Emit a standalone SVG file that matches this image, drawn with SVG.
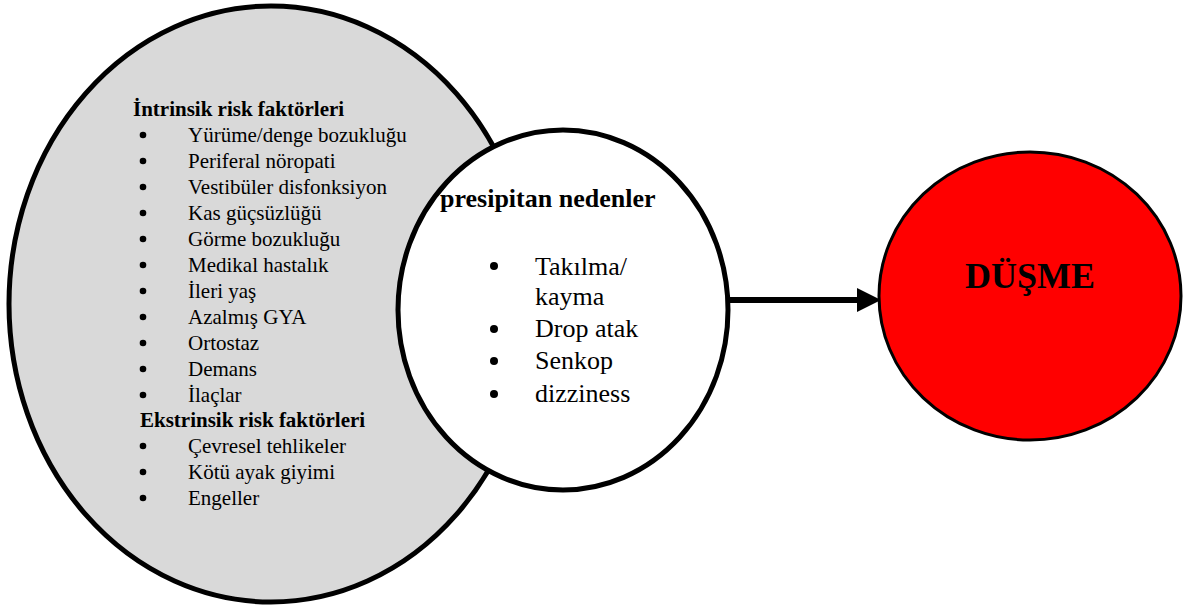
<svg xmlns="http://www.w3.org/2000/svg" width="1187" height="610" viewBox="0 0 1187 610">
<defs>
<style>
.t{font-family:"Liberation Serif","DejaVu Serif",serif;fill:#000}
.li{font-size:21px}
.hd{font-size:21px;font-weight:bold}
.mi{font-size:26px}
.mh{font-size:26px;font-weight:bold}
.b{fill:#000}
</style>
<marker id="ah" markerUnits="userSpaceOnUse" markerWidth="26" markerHeight="26" refX="0" refY="12" orient="auto">
<path d="M0,0 L24,12 L0,24 Z" fill="#000"/>
</marker>
</defs>
<rect width="1187" height="610" fill="#fff"/>
<g id="intrinsic">
<ellipse cx="271" cy="304" rx="262" ry="298" fill="#d9d9d9" stroke="#000" stroke-width="5"/>
<text class="t hd" x="133" y="116">İntrinsik risk faktörleri</text>
<g class="b">
<circle cx="143" cy="135" r="3.3"/><circle cx="143" cy="161" r="3.3"/><circle cx="143" cy="187" r="3.3"/><circle cx="143" cy="213" r="3.3"/><circle cx="143" cy="239" r="3.3"/><circle cx="143" cy="265" r="3.3"/><circle cx="143" cy="291" r="3.3"/><circle cx="143" cy="317" r="3.3"/><circle cx="143" cy="343" r="3.3"/><circle cx="143" cy="369" r="3.3"/><circle cx="143" cy="395" r="3.3"/>
<circle cx="143" cy="446" r="3.3"/><circle cx="143" cy="472" r="3.3"/><circle cx="143" cy="498" r="3.3"/>
</g>
<text class="t li" x="188" y="142">Yürüme/denge bozukluğu</text>
<text class="t li" x="188" y="168">Periferal nöropati</text>
<text class="t li" x="188" y="194">Vestibüler disfonksiyon</text>
<text class="t li" x="188" y="220">Kas güçsüzlüğü</text>
<text class="t li" x="188" y="246">Görme bozukluğu</text>
<text class="t li" x="188" y="272">Medikal hastalık</text>
<text class="t li" x="188" y="298">İleri yaş</text>
<text class="t li" x="188" y="324">Azalmış GYA</text>
<text class="t li" x="188" y="350">Ortostaz</text>
<text class="t li" x="188" y="376">Demans</text>
<text class="t li" x="188" y="402">İlaçlar</text>
<text class="t hd" x="140" y="427">Ekstrinsik risk faktörleri</text>
<text class="t li" x="188" y="453">Çevresel tehlikeler</text>
<text class="t li" x="188" y="479">Kötü ayak giyimi</text>
<text class="t li" x="188" y="505">Engeller</text>
</g>
<g id="presipitan">
<ellipse cx="563" cy="310" rx="165" ry="180" fill="#fff" stroke="#000" stroke-width="5"/>
<text class="t mh" x="440" y="207">presipitan nedenler</text>
<g class="b">
<circle cx="494" cy="266" r="4"/><circle cx="494" cy="329" r="4"/><circle cx="494" cy="361" r="4"/><circle cx="494" cy="394" r="4"/>
</g>
<text class="t mi" x="535" y="275">Takılma/</text>
<text class="t mi" x="535" y="305">kayma</text>
<text class="t mi" x="535" y="337">Drop atak</text>
<text class="t mi" x="535" y="369">Senkop</text>
<text class="t mi" x="535" y="402">dizziness</text>
</g>
<g id="connectors">
<line x1="729" y1="300" x2="857" y2="300" stroke="#000" stroke-width="6" marker-end="url(#ah)"/>
</g>
<g id="dusme">
<ellipse cx="1030" cy="296" rx="151" ry="144" fill="#ff0000" stroke="#000" stroke-width="3"/>
<text class="t" x="1030" y="288" font-size="36" font-weight="bold" text-anchor="middle">DÜŞME</text>
</g>
</svg>
